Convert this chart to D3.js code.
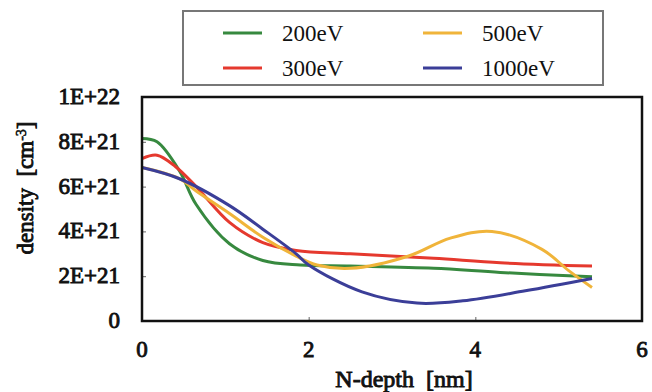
<!DOCTYPE html>
<html>
<head>
<meta charset="utf-8">
<script src="https://cdn.jsdelivr.net/npm/d3@7"></script>
</head>
<body style="margin:0; background:#fff">
<svg id="chart" width="652" height="392"></svg>
<script>
// depth [nm] / density [1E+21 cm^-3]
var s200 = [[0,8.15],[0.18,8.0],[0.45,6.7],[0.65,5.2],[1.05,3.45],[1.45,2.7],[1.9,2.5],[2.5,2.45],[3.5,2.35],[4.3,2.17],[5.4,1.97]];
var s300 = [[0,7.25],[0.18,7.4],[0.4,6.9],[0.65,6.0],[1.05,4.4],[1.45,3.5],[1.85,3.15],[2.5,3.0],[3.5,2.8],[4.3,2.6],[5.4,2.45]];
var s500 = [[0,6.85],[0.45,6.35],[0.65,5.8],[1.05,4.8],[1.45,3.74],[1.85,2.9],[2.1,2.5],[2.5,2.35],[3.2,2.9],[3.7,3.7],[4.2,4.0],[4.8,3.2],[5.12,2.25],[5.4,1.5]];
var s1000 = [[0,6.85],[0.45,6.35],[1.05,5.15],[1.45,4.1],[1.85,3.0],[2.0,2.5],[2.64,1.3],[3.3,0.8],[3.85,0.9],[4.6,1.35],[5.4,1.9]];

var seriesNames = ["200eV", "300eV", "500eV", "1000eV"];
var seriesData = [s200, s300, s500, s1000];
var seriesColors = ["#37893f", "#e5392e", "#f0b43a", "#3b3e98"];

var xTicks = [0, 2, 4, 6];
var yTicks = [0, 2, 4, 6, 8, 10];
var yTickLabels = ["0", "2E+21", "4E+21", "6E+21", "8E+21", "1E+22"];

var serif = "'Liberation Serif', 'Times New Roman', serif";

// no bold serif face here, so thicken the regular one with a stroke
function boldText(sel, size) {
  sel.style("font-family", serif)
    .style("font-size", size)
    .style("font-weight", "normal")
    .attr("fill", "#111")
    .attr("stroke", "#111")
    .attr("stroke-width", 0.9);
}

var margin = {top: 97, right: 10, bottom: 71, left: 142};
var width = 652 - margin.left - margin.right;
var height = 392 - margin.top - margin.bottom;

var svg = d3.select("#chart");
var g = svg.append("g")
  .attr("transform", "translate(" + margin.left + "," + margin.top + ")");

var xScale = d3.scaleLinear().domain([0, 6]).range([0, width]);
var yScale = d3.scaleLinear().domain([0, 10]).range([height, 0]);

// inward ticks, no domain (frame drawn separately)
var xAxis = d3.axisTop(xScale).tickValues([2, 4]).tickSize(4).tickFormat("");
g.append("g")
  .attr("transform", "translate(0," + height + ")")
  .call(xAxis)
  .call(function(a) { a.select(".domain").remove(); a.selectAll("line").attr("stroke", "#666"); });

var yAxis = d3.axisRight(yScale).tickValues([2, 4, 6, 8]).tickSize(4).tickFormat("");
g.append("g")
  .call(yAxis)
  .call(function(a) { a.select(".domain").remove(); a.selectAll("line").attr("stroke", "#666"); });

// tick labels
g.selectAll(".xlab")
  .data(xTicks)
  .enter().append("text")
  .attr("x", function(d) { return xScale(d); })
  .attr("y", height + 36)
  .attr("text-anchor", "middle")
  .call(boldText, "23px")
  .text(function(d) { return d; });

g.selectAll(".ylab")
  .data(yTicks)
  .enter().append("text")
  .attr("x", -22)
  .attr("y", function(d) { return yScale(d) + 7; })
  .attr("text-anchor", "end")
  .call(boldText, "23px")
  .text(function(d, i) { return yTickLabels[i]; });

var line = d3.line()
  .curve(d3.curveCatmullRom.alpha(0.5))
  .x(function(d) { return xScale(d[0]); })
  .y(function(d) { return yScale(d[1]); });

g.selectAll(".series")
  .data(seriesData)
  .enter().append("path")
  .attr("d", line)
  .attr("fill", "none")
  .attr("stroke", function(d, i) { return seriesColors[i]; })
  .attr("stroke-width", 3);

// frame
g.append("rect")
  .attr("x", 0).attr("y", 0)
  .attr("width", width).attr("height", height)
  .attr("fill", "none")
  .attr("stroke", "#111")
  .attr("stroke-width", 2.5);

// axis titles
svg.append("text")
  .attr("x", 404)
  .attr("y", 387)
  .attr("text-anchor", "middle")
  .call(boldText, "24px")
  .style("white-space", "pre")
  .text("N-depth  [nm]");

var yt = svg.append("text")
  .attr("transform", "translate(33,188) rotate(-90)")
  .attr("text-anchor", "middle")
  .call(boldText, "23px")
  .style("white-space", "pre");
yt.append("tspan").text("density  [cm");
yt.append("tspan").attr("baseline-shift", "super").style("font-size", "14px").attr("stroke-width", 0.6).text("-3");
yt.append("tspan").text("]");

// legend
var legend = svg.append("g");
legend.append("rect")
  .attr("x", 183).attr("y", 11)
  .attr("width", 420).attr("height", 74)
  .attr("fill", "#fff")
  .attr("stroke", "#777")
  .attr("stroke-width", 2);

var legendPos = [[223, 33], [223, 68], [423, 33], [423, 68]];
var items = legend.selectAll(".item")
  .data(seriesNames)
  .enter().append("g")
  .attr("transform", function(d, i) { return "translate(" + legendPos[i][0] + "," + legendPos[i][1] + ")"; });
items.append("line")
  .attr("x1", 0).attr("x2", 39)
  .attr("y1", 0).attr("y2", 0)
  .attr("stroke", function(d, i) { return seriesColors[i]; })
  .attr("stroke-width", 3);
items.append("text")
  .attr("x", 59)
  .attr("y", 8)
  .style("font-family", serif)
  .style("font-size", "23px")
  .attr("fill", "#111")
  .text(function(d) { return d; });
</script>
</body>
</html>
